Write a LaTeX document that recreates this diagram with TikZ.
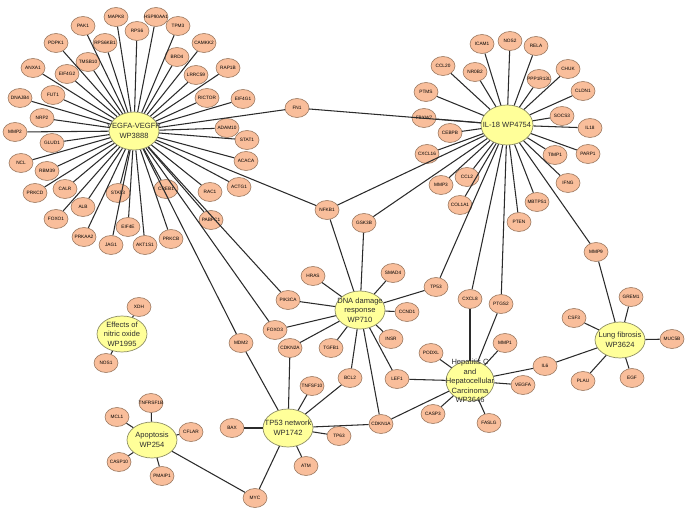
\documentclass[tikz,border=0pt]{standalone}
\usepackage{fontspec}
\setmainfont{Liberation Sans}
\usetikzlibrary{shapes.geometric}
\newcommand\zw[1]{\makebox[0pt]{#1}}
\definecolor{genefill}{HTML}{F9BE9B}
\definecolor{geneline}{HTML}{9C7A62}
\definecolor{hubfill}{HTML}{FFFF99}
\definecolor{hubline}{HTML}{8E8E66}
\definecolor{hubtext}{HTML}{2E2E2E}
\definecolor{edgecol}{HTML}{2B2B2B}
\begin{document}
\begin{tikzpicture}[x=0.02cm,y=-0.02cm,
 gene/.style={ellipse, draw=geneline, fill=genefill, line width=0.35pt, minimum width=0.48cm, minimum height=0.38cm, inner sep=0pt, font=\fontsize{2.7}{3}\selectfont, text=black},
 hub/.style={ellipse, draw=hubline, fill=hubfill, line width=0.4pt, minimum width=1.0cm, minimum height=0.76cm, inner sep=0pt},
 hubtxt/.style={font=\fontsize{4.3}{5.4}\selectfont, align=center, text=hubtext, inner sep=0pt},
 edge/.style={draw=edgecol, line width=0.6pt}]
\useasboundingbox (0,0) rectangle (685,516);
% hubs
\node[hub, label={[hubtxt]center:{VEGFA-VEGFR\\WP3888}}] (vegfr) at (134,131) {};
\node[hub, minimum width=1.04cm, minimum height=0.8cm, label={[hubtxt]center:{IL-18 WP4754}}] (il18hub) at (507,125) {};
\node[hub, label={[hubtxt]center:{DNA damage\\response\\WP710}}] (dnahub) at (360,310) {};
\node[hub, label={[hubtxt]center:{TP53 network\\WP1742}}] (tp53hub) at (288,428) {};
\node[hub, minimum width=0.96cm, minimum height=0.8cm, label={[hubtxt]center:{Hepatitis C\\and\\Hepatocellular\\Carcinoma\\WP3646}}] (hephub) at (470,381) {};
\node[hub, minimum height=0.72cm, label={[hubtxt]center:{Lung fibrosis\\WP3624}}] (lunghub) at (620,340) {};
\node[hub, minimum height=0.72cm, label={[hubtxt]center:{Apoptosis\\WP254}}] (apohub) at (152,440) {};
\node[hub, minimum height=0.72cm, label={[hubtxt]center:{Effects of\\nitric oxide\\WP1995}}] (nohub) at (122,334) {};
% VEGFA cluster
\node[gene] (mapk8) at (116,17) {\zw{MAPK8}};
\node[gene] (hsp90) at (156,17) {\zw{HSP90AA1}};
\node[gene] (pak1) at (83,26) {\zw{PAK1}};
\node[gene] (rps6) at (137,31) {\zw{RPS6}};
\node[gene] (tpm3) at (178,26) {\zw{TPM3}};
\node[gene] (pdpk1) at (56,43) {\zw{PDPK1}};
\node[gene] (rps6kb1) at (105,43) {\zw{RPS6KB1}};
\node[gene] (camkk2) at (204,43) {\zw{CAMKK2}};
\node[gene] (tmsb10) at (88,62) {\zw{TMSB10}};
\node[gene] (brd4) at (177,57) {\zw{BRD4}};
\node[gene] (anxa1) at (33,68) {\zw{ANXA1}};
\node[gene] (eif4g2) at (67,74) {\zw{EIF4G2}};
\node[gene] (lrrc59) at (196,75) {\zw{LRRC59}};
\node[gene] (rap1b) at (228,68) {\zw{RAP1B}};
\node[gene] (fut1) at (53,95) {\zw{FUT1}};
\node[gene] (dnajb4) at (20,98) {\zw{DNAJB4}};
\node[gene] (rictor) at (207,98) {\zw{RICTOR}};
\node[gene] (eif4g1) at (243,99) {\zw{EIF4G1}};
\node[gene] (nrp2) at (42,118) {\zw{NRP2}};
\node[gene] (adam10) at (227,128) {\zw{ADAM10}};
\node[gene] (mmp2) at (15,132) {\zw{MMP2}};
\node[gene] (glud1) at (52,143) {\zw{GLUD1}};
\node[gene] (stat1) at (247,140) {\zw{STAT1}};
\node[gene] (ncl) at (21,163) {\zw{NCL}};
\node[gene] (rbm39) at (47,171) {\zw{RBM39}};
\node[gene] (acaca) at (246,161) {\zw{ACACA}};
\node[gene] (prkcd) at (35,193) {\zw{PRKCD}};
\node[gene] (calr) at (65,189) {\zw{CALR}};
\node[gene] (stat3) at (118,193) {\zw{STAT3}};
\node[gene] (creb1) at (166,189) {\zw{CREB1}};
\node[gene] (rac1) at (210,192) {\zw{RAC1}};
\node[gene] (actg1) at (239,187) {\zw{ACTG1}};
\node[gene] (alb) at (83,207) {\zw{ALB}};
\node[gene] (foxo1) at (56,219) {\zw{FOXO1}};
\node[gene] (eif4e) at (128,227) {\zw{EIF4E}};
\node[gene] (pabpc1) at (211,220) {\zw{PABPC1}};
\node[gene] (prkaa2) at (84,237) {\zw{PRKAA2}};
\node[gene] (jag1) at (111,245) {\zw{JAG1}};
\node[gene] (akt1s1) at (145,245) {\zw{AKT1S1}};
\node[gene] (prkcb) at (171,239) {\zw{PRKCB}};
% shared / DNA damage / TP53
\node[gene] (fn1) at (297,108) {\zw{FN1}};
\node[gene] (nfkb1) at (327,210) {\zw{NFKB1}};
\node[gene] (gsk3b) at (364,223) {\zw{GSK3B}};
\node[gene] (pik3ca) at (288,300) {\zw{PIK3CA}};
\node[gene] (foxo3) at (275,330) {\zw{FOXO3}};
\node[gene] (mdm2) at (241,343) {\zw{MDM2}};
\node[gene] (hras) at (313,276) {\zw{HRAS}};
\node[gene] (smad4) at (393,273) {\zw{SMAD4}};
\node[gene] (tp53) at (436,287) {\zw{TP53}};
\node[gene] (ccnd1) at (407,312) {\zw{CCND1}};
\node[gene] (insr) at (391,339) {\zw{INSR}};
\node[gene] (cdkn2a) at (290,348) {\zw{CDKN2A}};
\node[gene] (tgfb1) at (331,348) {\zw{TGFB1}};
\node[gene] (bcl2) at (350,378) {\zw{BCL2}};
\node[gene] (lef1) at (397,379) {\zw{LEF1}};
\node[gene] (cdkn1a) at (381,424) {\zw{CDKN1A}};
\node[gene] (tnfsf10) at (312,386) {\zw{TNFSF10}};
\node[gene] (bax) at (232,428) {\zw{BAX}};
\node[gene] (tp63) at (339,436) {\zw{TP63}};
\node[gene] (atm) at (306,466) {\zw{ATM}};
\node[gene] (myc) at (255,498) {\zw{MYC}};
% IL-18 cluster
\node[gene] (icam1) at (482,44) {\zw{ICAM1}};
\node[gene] (nos2) at (510,41) {\zw{NOS2}};
\node[gene] (rela) at (536,46) {\zw{RELA}};
\node[gene] (ccl20) at (443,66) {\zw{CCL20}};
\node[gene] (nr0b2) at (475,72) {\zw{NR0B2}};
\node[gene] (ppp1r13l) at (539,79) {\zw{PPP1R13L}};
\node[gene] (chuk) at (568,69) {\zw{CHUK}};
\node[gene] (ptms) at (426,92) {\zw{PTMS}};
\node[gene] (cldn1) at (583,91) {\zw{CLDN1}};
\node[gene] (fbxw7) at (424,118) {\zw{FBXW7}};
\node[gene] (socs3) at (562,116) {\zw{SOCS3}};
\node[gene] (il18) at (590,128) {\zw{IL18}};
\node[gene] (cebpb) at (450,133) {\zw{CEBPB}};
\node[gene] (cxcl16) at (427,154) {\zw{CXCL16}};
\node[gene] (timp1) at (555,155) {\zw{TIMP1}};
\node[gene] (parp1) at (588,154) {\zw{PARP1}};
\node[gene] (ccl2) at (467,177) {\zw{CCL2}};
\node[gene] (mmp3) at (441,185) {\zw{MMP3}};
\node[gene] (ifng) at (568,183) {\zw{IFNG}};
\node[gene] (col1a1) at (460,205) {\zw{COL1A1}};
\node[gene] (mbtps1) at (537,202) {\zw{MBTPS1}};
\node[gene] (pten) at (519,222) {\zw{PTEN}};
\node[gene] (mmp9) at (596,252) {\zw{MMP9}};
% Hepatitis cluster
\node[gene] (cxcl8) at (470,299) {\zw{CXCL8}};
\node[gene] (ptgs2) at (501,304) {\zw{PTGS2}};
\node[gene] (mmp1) at (505,343) {\zw{MMP1}};
\node[gene] (podxl) at (431,353) {\zw{PODXL}};
\node[gene] (il6) at (545,366) {\zw{IL6}};
\node[gene] (vegfa) at (523,385) {\zw{VEGFA}};
\node[gene] (casp3) at (433,414) {\zw{CASP3}};
\node[gene] (faslg) at (489,423) {\zw{FASLG}};
% Lung fibrosis cluster
\node[gene] (grem1) at (631,297) {\zw{GREM1}};
\node[gene] (csf3) at (574,318) {\zw{CSF3}};
\node[gene] (muc5b) at (672,339) {\zw{MUC5B}};
\node[gene] (plau) at (583,381) {\zw{PLAU}};
\node[gene] (egf) at (632,378) {\zw{EGF}};
% Apoptosis cluster
\node[gene] (tnfrsf1b) at (151,403) {\zw{TNFRSF1B}};
\node[gene] (mcl1) at (117,417) {\zw{MCL1}};
\node[gene] (cflar) at (191,432) {\zw{CFLAR}};
\node[gene] (casp10) at (119,462) {\zw{CASP10}};
\node[gene] (pmaip1) at (162,476) {\zw{PMAIP1}};
% Effects of nitric oxide
\node[gene] (xdh) at (139,307) {\zw{XDH}};
\node[gene] (nos1) at (106,363) {\zw{NOS1}};
% edges
\foreach \n in {mapk8,hsp90,pak1,rps6,tpm3,pdpk1,rps6kb1,camkk2,tmsb10,brd4,anxa1,eif4g2,lrrc59,rap1b,fut1,dnajb4,rictor,eif4g1,nrp2,adam10,mmp2,glud1,stat1,ncl,rbm39,acaca,prkcd,calr,stat3,creb1,rac1,actg1,alb,foxo1,eif4e,pabpc1,prkaa2,jag1,akt1s1,prkcb,fn1,nfkb1,pik3ca,foxo3,mdm2}
  \draw[edge] (vegfr) -- (\n);
\foreach \n in {icam1,nos2,rela,ccl20,nr0b2,ppp1r13l,chuk,ptms,cldn1,fbxw7,socs3,il18,cebpb,cxcl16,timp1,parp1,ccl2,mmp3,ifng,col1a1,mbtps1,pten,mmp9,fn1,nfkb1,gsk3b,tp53,cxcl8,ptgs2}
  \draw[edge] (il18hub) -- (\n);
\foreach \n in {hras,smad4,tp53,pik3ca,ccnd1,foxo3,insr,cdkn2a,tgfb1,nfkb1,gsk3b,bcl2,lef1,cdkn1a}
  \draw[edge] (dnahub) -- (\n);
\foreach \n in {mdm2,cdkn2a,tnfsf10,bcl2,bax,cdkn1a,tp63,atm,myc}
  \draw[edge] (tp53hub) -- (\n);
\foreach \n in {cxcl8,ptgs2,mmp1,podxl,il6,lef1,vegfa,casp3,faslg,cdkn1a}
  \draw[edge] (hephub) -- (\n);
\foreach \n in {mmp9,grem1,csf3,muc5b,il6,plau,egf}
  \draw[edge] (lunghub) -- (\n);
\foreach \n in {tnfrsf1b,mcl1,cflar,casp10,pmaip1,myc}
  \draw[edge] (apohub) -- (\n);
\foreach \n in {xdh,nos1}
  \draw[edge] (nohub) -- (\n);
\end{tikzpicture}
\end{document}
